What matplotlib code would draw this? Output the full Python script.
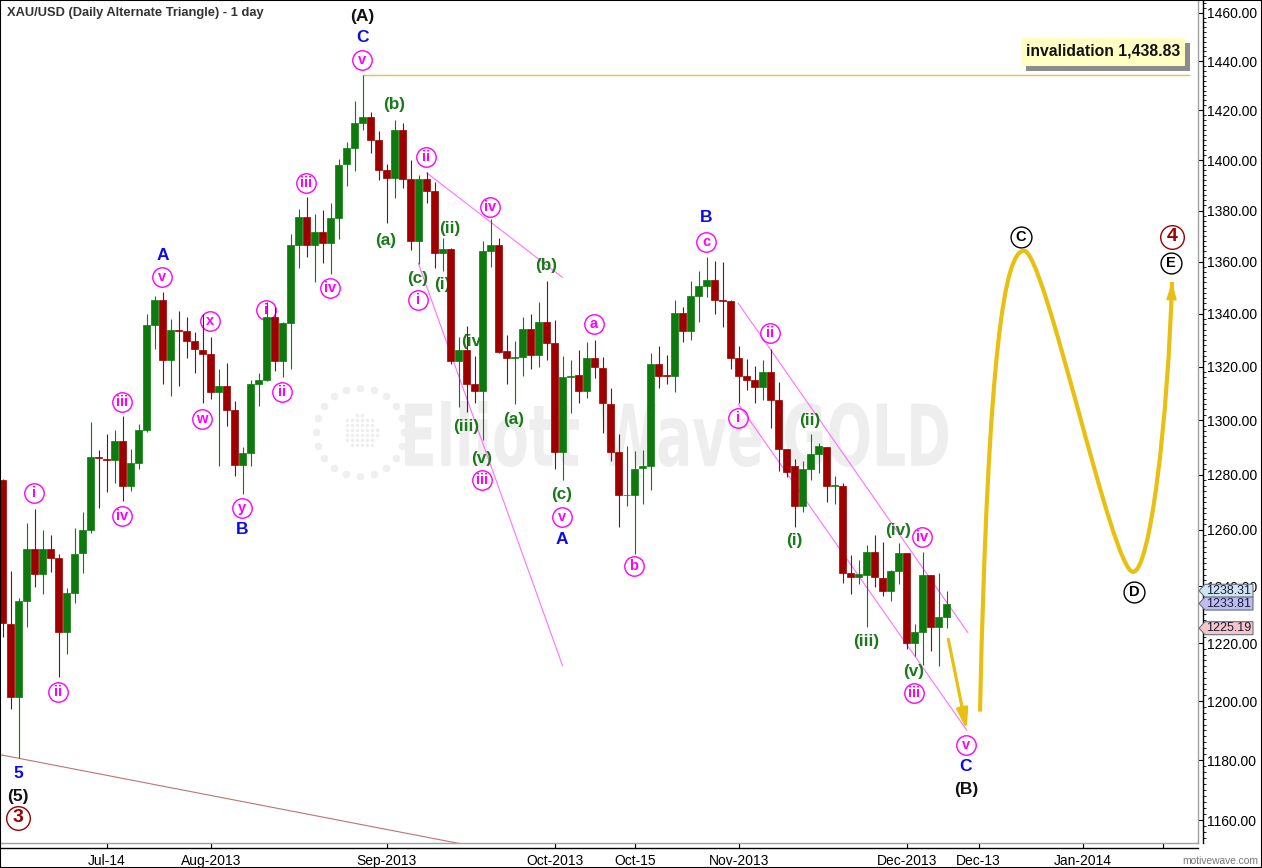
import numpy as np
import pandas as pd
import matplotlib
matplotlib.use("Agg")
import matplotlib.pyplot as plt
import matplotlib.ticker as mticker
from matplotlib.patches import Rectangle, Polygon, PathPatch, FancyArrowPatch
from matplotlib.path import Path
from matplotlib.textpath import TextPath
from matplotlib.font_manager import FontProperties
from matplotlib.transforms import Affine2D, IdentityTransform

plt.rcParams['font.family'] = ['Liberation Sans', 'DejaVu Sans']

# ---------------- data ----------------
dates = pd.bdate_range("2013-06-26", "2013-12-09")

opens = [1278.0, 1226.7, 1201.4, 1234.7, 1253.0, 1244.2, 1253.0, 1249.8, 1224.0, 1237.6,
         1251.6, 1260.0, 1286.3, 1285.8, 1285.3, 1292.4, 1276.0, 1284.4, 1296.2, 1335.8,
         1345.4, 1322.6, 1333.9, 1333.3, 1329.6, 1326.1, 1324.8, 1310.4, 1312.6, 1303.6,
         1283.6, 1287.9, 1313.4, 1315.0, 1338.6, 1322.0, 1336.4, 1366.4, 1377.3, 1366.4,
         1371.5, 1367.3, 1377.0, 1398.5, 1404.9, 1415.0, 1417.4, 1408.0, 1395.9, 1393.0,
         1412.0, 1392.5, 1368.0, 1392.5, 1387.6, 1363.6, 1365.0, 1322.0, 1326.4, 1313.4,
         1311.0, 1364.0, 1366.6, 1325.9, 1323.3, 1323.5, 1334.3, 1324.5, 1337.0, 1329.0,
         1288.4, 1316.2, 1317.0, 1311.0, 1323.3, 1319.6, 1305.9, 1288.4, 1272.5, 1272.6,
         1282.5, 1283.0, 1320.8, 1317.0, 1316.4, 1340.3, 1333.3, 1347.0, 1350.8, 1352.8,
         1345.4, 1344.8, 1323.1, 1316.4, 1314.9, 1312.4, 1318.1, 1307.6, 1289.3, 1283.0,
         1268.6, 1282.2, 1287.5, 1290.0, 1275.9, 1275.9, 1244.7, 1243.2, 1243.8, 1252.0,
         1243.0, 1238.3, 1245.3, 1251.6, 1220.1, 1224.0, 1243.8, 1225.7, 1229.1]
highs = [1278.5, 1245.3, 1235.8, 1262.5, 1267.6, 1260.0, 1258.2, 1251.2, 1239.3, 1260.6,
         1266.3, 1299.4, 1288.9, 1295.0, 1296.2, 1301.4, 1289.3, 1298.4, 1339.9, 1346.9,
         1348.5, 1338.0, 1341.1, 1338.6, 1333.2, 1339.9, 1331.3, 1318.9, 1321.2, 1307.3,
         1290.1, 1314.9, 1317.4, 1344.5, 1342.6, 1336.8, 1370.7, 1380.6, 1385.4, 1378.5,
         1380.2, 1383.1, 1400.6, 1407.2, 1423.8, 1434.3, 1419.4, 1411.5, 1398.5, 1416.0,
         1414.9, 1400.0, 1394.0, 1395.1, 1391.4, 1369.2, 1365.5, 1331.3, 1335.4, 1324.0,
         1368.0, 1376.6, 1369.3, 1332.0, 1329.6, 1338.6, 1339.8, 1344.5, 1352.7, 1337.8,
         1324.0, 1322.5, 1326.1, 1329.3, 1330.0, 1323.5, 1312.0, 1294.9, 1290.4, 1288.6,
         1288.9, 1325.0, 1327.8, 1324.5, 1345.1, 1342.6, 1352.4, 1356.4, 1361.7, 1360.4,
         1360.0, 1345.4, 1327.8, 1322.9, 1320.4, 1322.3, 1326.5, 1314.3, 1289.5, 1285.7,
         1285.1, 1294.8, 1291.6, 1290.2, 1279.6, 1277.0, 1251.0, 1249.2, 1254.4, 1258.2,
         1255.5, 1245.6, 1255.3, 1251.8, 1226.6, 1252.0, 1244.0, 1244.7, 1238.31]
lows = [1222.0, 1197.3, 1180.7, 1225.6, 1239.7, 1237.2, 1245.0, 1208.3, 1216.2, 1233.9,
        1244.5, 1259.0, 1267.8, 1273.7, 1277.0, 1270.3, 1274.1, 1282.0, 1295.5, 1326.8,
        1313.4, 1308.9, 1312.8, 1323.1, 1317.6, 1306.2, 1308.0, 1283.3, 1297.7, 1279.4,
        1272.9, 1283.0, 1305.3, 1314.5, 1318.5, 1316.0, 1319.2, 1357.7, 1362.0, 1352.0,
        1359.7, 1355.1, 1368.7, 1389.8, 1395.6, 1412.0, 1402.7, 1392.1, 1375.3, 1385.1,
        1388.8, 1364.6, 1359.1, 1383.0, 1357.7, 1356.6, 1321.0, 1305.0, 1303.2, 1306.4,
        1292.5, 1358.1, 1325.0, 1313.5, 1306.0, 1316.6, 1318.9, 1319.8, 1322.5, 1282.0,
        1277.9, 1302.6, 1306.2, 1308.4, 1315.7, 1295.1, 1285.0, 1261.2, 1268.5, 1251.5,
        1269.3, 1274.4, 1311.9, 1313.3, 1310.4, 1329.1, 1330.1, 1336.8, 1346.3, 1340.0,
        1334.9, 1319.2, 1306.2, 1311.3, 1306.2, 1307.6, 1297.1, 1281.4, 1279.0, 1261.2,
        1266.4, 1278.0, 1280.6, 1270.0, 1269.3, 1241.2, 1237.1, 1240.6, 1225.5, 1239.7,
        1236.6, 1234.7, 1240.7, 1217.8, 1215.4, 1212.4, 1217.3, 1212.1, 1225.19]
closes = [1227.0, 1201.4, 1234.7, 1253.0, 1244.2, 1253.0, 1249.9, 1224.0, 1237.5, 1251.5,
          1260.0, 1286.3, 1285.9, 1285.3, 1292.4, 1276.0, 1284.4, 1296.2, 1335.8, 1345.4,
          1322.6, 1333.9, 1333.5, 1329.6, 1326.8, 1324.9, 1310.4, 1312.6, 1303.6, 1283.6,
          1287.9, 1313.4, 1315.0, 1338.6, 1322.0, 1336.4, 1366.4, 1377.3, 1366.4, 1371.5,
          1367.3, 1376.9, 1398.1, 1404.9, 1414.9, 1417.4, 1408.0, 1395.9, 1393.0, 1412.0,
          1392.5, 1368.0, 1392.5, 1387.6, 1363.6, 1365.0, 1322.0, 1326.4, 1313.4, 1311.0,
          1364.0, 1366.6, 1325.5, 1323.3, 1323.5, 1334.3, 1324.3, 1337.0, 1329.0, 1288.4,
          1316.2, 1316.6, 1311.0, 1323.3, 1319.8, 1306.2, 1288.4, 1272.5, 1272.7, 1282.1,
          1283.0, 1320.8, 1316.6, 1316.4, 1340.3, 1333.3, 1347.0, 1350.8, 1352.8, 1345.4,
          1344.8, 1323.1, 1316.4, 1314.9, 1312.4, 1318.1, 1307.6, 1289.3, 1281.0, 1268.6,
          1282.2, 1287.5, 1290.4, 1275.9, 1276.1, 1244.7, 1243.2, 1244.2, 1252.0, 1243.2,
          1238.3, 1245.3, 1251.6, 1220.1, 1223.8, 1243.8, 1225.7, 1229.1, 1233.81]

tick_dates = ["2013-07-15", "2013-08-01", "2013-09-02", "2013-10-01", "2013-10-15",
              "2013-11-01", "2013-12-02", "2013-12-13", "2014-01-01", "2014-01-15"]
tick_labels = ["Jul-14", "Aug-2013", "Sep-2013", "Oct-2013", "Oct-15",
               "Nov-2013", "Dec-2013", "Dec-13", "Jan-2014", ""]
y_ticks = list(range(1160, 1461, 20))

# wave labels: text, x (bar index), price, style
label_text = ["(A)", "C", "v", "iii", "(b)", "(a)", "ii", "iv", "(ii)", "(c)", "i", "(i)",
              "(b)", "a", "(iv)", "(iii)", "(a)", "(v)", "iii", "(c)", "v", "A", "b",
              "B", "c", "ii", "i", "(ii)", "(i)", "(iv)", "iv", "(iii)", "(v)", "iii",
              "v", "C", "(B)", "i", "ii", "iii", "iv", "A", "v", "x", "w", "i", "ii",
              "iv", "y", "B", "5", "(5)", "3", "C", "4", "E", "D"]
label_x = [44.95, 44.95, 44.92, 37.91, 48.91, 47.91, 52.91, 60.91, 55.91, 51.91, 51.91, 54.91,
           67.91, 73.91, 58.91, 57.91, 63.91, 59.91, 59.91, 69.91, 69.91, 69.91, 78.91,
           87.91, 87.91, 95.91, 91.91, 100.91, 98.91, 111.91, 114.91, 107.91, 113.85, 113.91,
           120.41, 120.41, 120.41, 3.91, 6.91, 14.91, 14.91, 19.95, 19.95, 25.91, 24.91, 32.85, 34.91,
           40.91, 29.91, 29.91, 1.91, 1.91, 1.91, 127.29, 146.2, 146.04, 141.41]
label_price = [1458.3, 1449.6, 1440.5, 1390.9, 1422.5, 1368.1, 1401.2, 1381.4, 1372.8, 1353.7, 1345.3, 1351.4,
               1358.7, 1336.1, 1329.6, 1297.8, 1300.4, 1286.0, 1278.0, 1272.6, 1264.6, 1256.7, 1247.1,
               1377.1, 1367.8, 1332.7, 1300.9, 1299.7, 1256.3, 1259.9, 1257.4, 1220.4, 1210.2, 1202.8,
               1185.2, 1177.7, 1170.3, 1273.3, 1203.2, 1306.7, 1265.0, 1362.6, 1354.1, 1337.2, 1300.4, 1341.4, 1310.5,
               1349.8, 1267.7, 1260.1, 1175.6, 1167.8, 1160.8, 1369.5, 1369.7, 1359.4, 1238.0]
label_style = ["k", "b", "m", "m", "g", "g", "m", "m", "g", "g", "m", "g",
               "g", "m", "g", "g", "g", "g", "m", "g", "m", "b", "m",
               "b", "m", "m", "m", "g", "g", "g", "m", "g", "g", "m",
               "m", "b", "k", "m", "m", "m", "m", "b", "m", "m", "m", "m", "m",
               "m", "m", "b", "b", "k", "rc", "kc", "rc", "kc", "kc"]

# trend lines (bar index, price)
magenta_lines = [((53.0, 1394.9), (69.95, 1354.0)),
                 ((51.95, 1359.4), (69.97, 1212.2)),
                 ((91.95, 1344.0), (120.63, 1223.7)),
                 ((91.95, 1306.0), (120.5, 1190.1))]
brown_line = ((-0.5, 1181.9), (60.0, 1150.8))
arrow_down = ((118.2, 1221.3), (120.5, 1190.1))
forecast_x = [122.16, 123.16, 125.29, 127.66, 130.29, 138.66, 141.29, 143.41, 145.66, 146.16]
forecast_y = [1196.4, 1326.2, 1364.3, 1364.3, 1364.2, 1245.0, 1245.0, 1245.0, 1300.0, 1352.2]
forecast_head_from = (146.1, 1345.3)
invalidation_end = 148.3
last_high, last_close, last_low = 1238.31, 1233.81, 1225.19

# ---------------- figure ----------------
W, H = 1262, 868
fig = plt.figure(figsize=(W / 100, H / 100), dpi=100)
fig.patch.set_facecolor("white")
ax = fig.add_axes([0, (H - 843) / H, 1198 / W, 842 / H])
ax.set_yscale("log")
ax.set_xlim(-0.34, 149.41)
ax.set_ylim(1152.45, 1464.9)

GREEN = "#0E7A0E"
RED = "#9E0000"
GOLD = "#E8C014"
MAG = "#FF00FF"

# watermark
fp = FontProperties(family="DejaVu Sans", weight="bold")
tp = TextPath((0, 0), "Elliott Wave GOLD", size=100, prop=fp)
bb = tp.get_extents()
tr = Affine2D().translate(-bb.x0, -bb.y0).scale(543 / bb.width, 66 / bb.height).translate(405, H - 467)
ax.add_artist(PathPatch(tr.transform_path(tp), fc="#EEEEEE", ec="none",
                        transform=IdentityTransform(), zorder=0.5))
ang = np.linspace(0, 2 * np.pi, 20, endpoint=False)
ax.scatter(360 + 44 * np.cos(ang), H - 432 + 44 * np.sin(ang), s=30, c="#EFEFEF",
           transform=IdentityTransform(), zorder=0.5, linewidths=0)
gx, gy = np.meshgrid(np.arange(-18, 19, 5), np.arange(-18, 19, 5))
m = gx ** 2 + gy ** 2 <= 18 ** 2
ax.scatter(360 + gx[m], H - 432 + gy[m], s=6, c="#EDEDED",
           transform=IdentityTransform(), zorder=0.5, linewidths=0)

# candles
o = np.array(opens); h = np.array(highs); l = np.array(lows); c = np.array(closes)
x = np.arange(len(dates))
cols = np.where(c >= o, GREEN, RED)
ax.vlines(x, l, h, colors=cols, lw=0.8, zorder=3)
ax.bar(x, np.abs(c - o), bottom=np.minimum(o, c), width=0.86, color=cols,
       edgecolor=cols, linewidth=0.5, zorder=4)

# lines
for (p0, p1) in magenta_lines:
    ax.plot([p0[0], p1[0]], [p0[1], p1[1]], color="#FF70FF", lw=0.8, zorder=2)
ax.plot([brown_line[0][0], brown_line[1][0]], [brown_line[0][1], brown_line[1][1]],
        color="#C07272", lw=0.8, zorder=2)
peak_i = int(np.argmax(h))
ax.plot([x[peak_i], invalidation_end], [h[peak_i], h[peak_i]], color="#E8C040", lw=1.0, zorder=2)

ax.add_patch(FancyArrowPatch(arrow_down[0], arrow_down[1],
                             arrowstyle="-|>,head_length=1.1,head_width=0.3",
                             mutation_scale=11, lw=2.3, color=GOLD, zorder=5,
                             shrinkA=0, shrinkB=0))
codes = [Path.MOVETO] + [Path.CURVE4] * 9
fpath = Path(np.column_stack([forecast_x, forecast_y]), codes)
ax.add_patch(PathPatch(fpath, fc="none", ec=GOLD, lw=3.0, zorder=5, capstyle="butt"))
ax.add_patch(FancyArrowPatch(forecast_head_from, (forecast_x[-1], forecast_y[-1]),
                             arrowstyle="-|>,head_length=1.0,head_width=0.3",
                             mutation_scale=11, lw=1.0, color=GOLD, zorder=5,
                             shrinkA=0, shrinkB=0))

# labels
styles = {
    "g": dict(color="#1A7A1A", size=12.3),
    "b": dict(color="#0A0AF0", size=12.5),
    "k": dict(color="#111111", size=12.5),
    "m": dict(color=MAG, size=10.5, circle=14.0),
    "kc": dict(color="#000000", size=10.5, circle=15.0),
    "rc": dict(color="#990000", size=14.0, circle=17.0),
}
for t, px, pr, s in zip(label_text, label_x, label_price, label_style):
    st = styles[s]
    ax.text(px, pr, t, color=st["color"], fontsize=st["size"], fontweight="bold",
            ha="center", va="center", zorder=2.5)
    if "circle" in st:
        ax.plot([px], [pr], marker="o", ms=st["circle"], mfc="none",
                mec=st["color"], mew=1.0, zorder=2.5)

# axes styling
ax.yaxis.set_major_locator(mticker.FixedLocator(y_ticks))
ax.yaxis.set_major_formatter(mticker.FuncFormatter(lambda v, pos: f"{v:.2f}"))
ax.yaxis.set_minor_locator(mticker.FixedLocator(np.arange(1154, 1465, 2)))
ax.yaxis.set_minor_formatter(mticker.NullFormatter())
ax.yaxis.tick_right()
all_days = pd.bdate_range("2013-06-26", "2014-03-31")
tpos = all_days.get_indexer(pd.to_datetime(tick_dates))
ax.set_xticks(tpos)
ax.set_xticklabels(tick_labels)
ax.xaxis.set_minor_locator(mticker.NullLocator())
ax.tick_params(axis="y", which="major", direction="in", length=3.6, width=0.8, pad=3,
               labelsize=10, right=True, left=False)
ax.tick_params(axis="y", which="minor", direction="out", length=2.2, width=0.6,
               right=True, left=False)
ax.tick_params(axis="x", which="major", direction="in", length=3.6, width=0.8, pad=4, labelsize=10)
for sp in ["left", "top"]:
    ax.spines[sp].set_visible(False)
for sp in ["bottom", "right"]:
    ax.spines[sp].set_position(("outward", 3.6))
    ax.spines[sp].set_linewidth(1.0)
ax.plot([0, 1], [0, 0], transform=ax.transAxes, color="#A0A0A0", lw=1, clip_on=False, zorder=6)
ax.plot([1, 1], [0, 1], transform=ax.transAxes, color="#A0A0A0", lw=1, clip_on=False, zorder=6)

# title and footer
fig.text(7 / W, 1 - 13 / H, "XAU/USD (Daily Alternate Triangle) - 1 day", fontsize=9.3,
         fontweight="bold", color="#333333", ha="left", va="center")
fig.text(1258 / W, 1 - 861 / H, "motivewave.com", fontsize=7.4, color="#777777",
         ha="right", va="center")

# invalidation box (pixel coordinates)
ident = IdentityTransform()
fig.add_artist(Rectangle((1026, H - 71), 164, 28, transform=ident, fc="#8C8C8C", ec="none", zorder=5))
fig.add_artist(Rectangle((1021, H - 66), 164, 28, transform=ident, fc="#FFFFC4", ec="none", zorder=6))
fig.text(1103 / W, 1 - 51.5 / H, "invalidation 1,438.83", fontsize=11.3, fontweight="bold",
         color="#111111", ha="center", va="center", zorder=7)

# last price tags
tags = [(last_high, "#CDE7F2"), (last_close, "#BDBDF2"), (last_low, "#F5C6C6")]
for val, fc in tags:
    yd = ax.transData.transform((0, val))[1]
    poly = [(1199, yd), (1205, yd + 6.5), (1253, yd + 6.5), (1253, yd - 6.5), (1205, yd - 6.5)]
    fig.add_artist(Polygon(poly, closed=True, transform=ident, fc=fc, ec="#6A7080", lw=0.8, zorder=8))
    fig.text(1229 / W, yd / H, f"{val:.2f}", fontsize=9, color="#1A1A3A",
             ha="center", va="center", zorder=9)

# outer border
fig.add_artist(Rectangle((0, 0), 1, 1, transform=fig.transFigure, fill=False,
                         ec="black", lw=1.5, zorder=10))

fig.savefig("out.png", dpi=100, facecolor="white")
